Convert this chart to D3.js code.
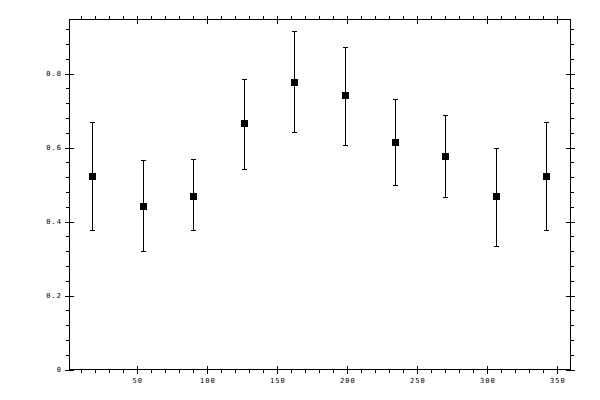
<!DOCTYPE html>
<html>
<head>
<meta charset="utf-8">
<script src="https://cdn.jsdelivr.net/npm/d3@7"></script>
<style>
	body { margin: 0; background: #fff; }
	text { font-family: "DejaVu Sans Mono", monospace; font-size: 7px; letter-spacing: 1px; fill: #000; }
</style>
</head>
<body>
<div id="chart"></div>
<script>
// wind direction bins (degrees) with mean and error bar ends
var directions = [18, 54, 90, 126, 162, 198, 234, 270, 306, 342];
var means = [0.522, 0.443, 0.470, 0.665, 0.778, 0.741, 0.616, 0.576, 0.468, 0.522];
var lows  = [0.376, 0.319, 0.376, 0.543, 0.643, 0.608, 0.500, 0.465, 0.335, 0.376];
var highs = [0.668, 0.565, 0.568, 0.784, 0.914, 0.873, 0.730, 0.689, 0.600, 0.668];

var xMajor = [50, 100, 150, 200, 250, 300, 350];
var yMajor = [0, 0.2, 0.4, 0.6, 0.8];

// note: "top" is taken by window.top, so keep the box edges in an object
var w = 600, h = 400,
	box = {left: 69.5, right: 570.5, top: 19.5, bottom: 369.5};

var x = d3.scaleLinear().domain([1.6, 359.4]).range([box.left, box.right]);
var y = d3.scaleLinear().domain([0, 0.946]).range([box.bottom, box.top]);

function notMajor(d, step) { return Math.abs(d / step - Math.round(d / step)) > 1e-6; }
var xMinor = d3.range(10, 360, 10).filter(function(d){ return notMajor(d, 50); });
var yMinor = d3.range(1, 24).map(function(i){ return +(i * 0.04).toFixed(2); })
	.filter(function(d){ return notMajor(d, 0.2); });

var svg = d3.select("#chart")
	.append("svg")
	.attr("width", w)
	.attr("height", h);

// frame
svg.append("rect")
	.attr("x", box.left)
	.attr("y", box.top)
	.attr("width", box.right - box.left)
	.attr("height", box.bottom - box.top)
	.attr("fill", "none")
	.attr("stroke", "#000")
	.attr("stroke-width", 1)
	.attr("shape-rendering", "crispEdges");

var yFmt = function(d){ return d === 0 ? "0" : d.toFixed(1); };

// helper: draw an axis, drop its domain path
function axis(gen, tx, ty) {
	var g = svg.append("g")
		.attr("transform", "translate(" + tx + "," + ty + ")")
		.call(gen);
	g.select(".domain").remove();
	g.selectAll("line").attr("stroke", "#000").attr("shape-rendering", "crispEdges");
	g.selectAll("text").attr("font-size", null).attr("font-family", null);
	g.attr("font-size", null).attr("font-family", null);
	return g;
}

// left axis: labelled majors crossing the line, minors outward
var gl = axis(d3.axisLeft(y).tickValues(yMajor).tickSize(4.5).tickPadding(3).tickFormat(yFmt), box.left, 0);
gl.selectAll("line").attr("x1", 4.5);
axis(d3.axisLeft(y).tickValues(yMinor).tickSize(3.5).tickFormat(""), box.left, 0);

// right axis
var gr = axis(d3.axisRight(y).tickValues(yMajor).tickSize(4.5).tickFormat(""), box.right, 0);
gr.selectAll("line").attr("x1", -4.5);
axis(d3.axisRight(y).tickValues(yMinor).tickSize(3.5).tickFormat(""), box.right, 0);

// bottom axis
var gb = axis(d3.axisBottom(x).tickValues(xMajor).tickSize(4).tickPadding(5), 0, box.bottom);
gb.selectAll("line").attr("y1", -4);
axis(d3.axisBottom(x).tickValues(xMinor).tickSize(3.5).tickFormat(""), 0, box.bottom);

// top axis
var gt = axis(d3.axisTop(x).tickValues(xMajor).tickSize(4).tickFormat(""), 0, box.top);
gt.selectAll("line").attr("y1", 4);
axis(d3.axisTop(x).tickValues(xMinor).tickSize(3.5).tickFormat(""), 0, box.top);

// error bars
var pts = directions.map(function(d, i){
	return {dir: d, mean: means[i], lo: lows[i], hi: highs[i]};
});

var bars = svg.append("g")
	.attr("stroke", "#000")
	.attr("stroke-width", 1)
	.attr("shape-rendering", "crispEdges");

bars.selectAll("line.err")
	.data(pts)
	.enter()
	.append("line")
	.attr("class", "err")
	.attr("x1", function(d){ return Math.round(x(d.dir)) + 0.5; })
	.attr("x2", function(d){ return Math.round(x(d.dir)) + 0.5; })
	.attr("y1", function(d){ return y(d.lo); })
	.attr("y2", function(d){ return y(d.hi); });

["lo", "hi"].forEach(function(k){
	bars.selectAll("line.cap" + k)
		.data(pts)
		.enter()
		.append("line")
		.attr("class", "cap" + k)
		.attr("x1", function(d){ return Math.round(x(d.dir)) - 2; })
		.attr("x2", function(d){ return Math.round(x(d.dir)) + 3; })
		.attr("y1", function(d){ return Math.round(y(d[k])) + 0.5; })
		.attr("y2", function(d){ return Math.round(y(d[k])) + 0.5; });
});

// square markers
svg.append("g")
	.selectAll("rect")
	.data(pts)
	.enter()
	.append("rect")
	.attr("x", function(d){ return Math.round(x(d.dir)) - 3; })
	.attr("y", function(d){ return Math.round(y(d.mean)) - 3; })
	.attr("width", 7)
	.attr("height", 7)
	.attr("fill", "#000")
	.attr("shape-rendering", "crispEdges");
</script>
</body>
</html>
